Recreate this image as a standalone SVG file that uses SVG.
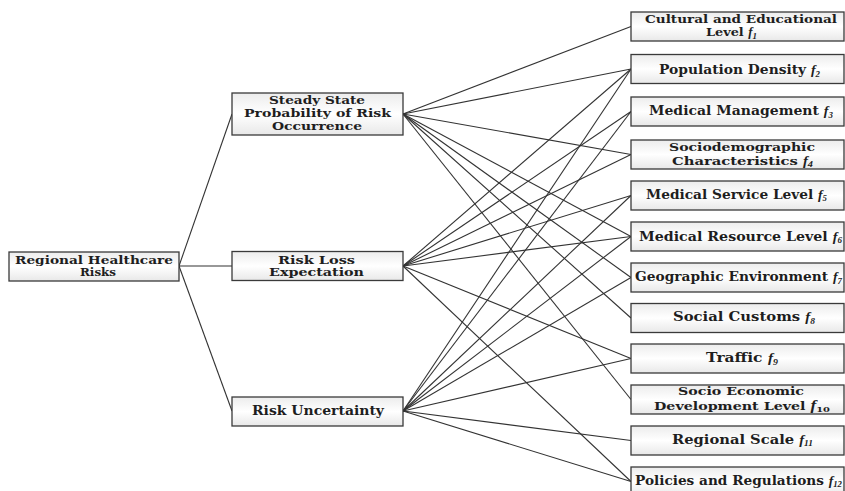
<svg xmlns="http://www.w3.org/2000/svg" width="845" height="491" viewBox="0 0 845 491">
<defs>
<linearGradient id="g" x1="0" y1="0" x2="0" y2="1">
<stop offset="0" stop-color="#ececec"/>
<stop offset="0.5" stop-color="#ffffff"/>
<stop offset="1" stop-color="#e8e8e8"/>
</linearGradient>
<style>
.box{fill:url(#g);stroke:#3a3a3a;stroke-width:1.3}
.t{font-family:"DejaVu Serif","Liberation Serif",serif;font-weight:bold;font-size:12.5px;fill:#1e1e1e}
.m{font-size:11.5px}
.f{font-family:"Liberation Serif",serif;font-style:italic}
.s{font-size:8px}
.conn line{stroke:#333;stroke-width:1.1;fill:none}
</style>
</defs>
<rect width="845" height="491" fill="#ffffff"/>
<g class="conn" id="connectors">
<line x1="179" y1="266" x2="232" y2="114"/>
<line x1="179" y1="266" x2="232" y2="266"/>
<line x1="179" y1="266" x2="232" y2="411"/>
<line x1="403" y1="114" x2="631" y2="26.5"/>
<line x1="403" y1="114" x2="631" y2="69"/>
<line x1="403" y1="114" x2="631" y2="154.5"/>
<line x1="403" y1="114" x2="631" y2="236.5"/>
<line x1="403" y1="114" x2="631" y2="277.5"/>
<line x1="403" y1="114" x2="631" y2="318"/>
<line x1="403" y1="114" x2="631" y2="399.5"/>
<line x1="403" y1="266" x2="631" y2="69"/>
<line x1="403" y1="266" x2="631" y2="111.5"/>
<line x1="403" y1="266" x2="631" y2="154.5"/>
<line x1="403" y1="266" x2="631" y2="195.5"/>
<line x1="403" y1="266" x2="631" y2="236.5"/>
<line x1="403" y1="266" x2="631" y2="358.5"/>
<line x1="403" y1="266" x2="631" y2="481.5"/>
<line x1="403" y1="411" x2="631" y2="69"/>
<line x1="403" y1="411" x2="631" y2="111.5"/>
<line x1="403" y1="411" x2="631" y2="195.5"/>
<line x1="403" y1="411" x2="631" y2="236.5"/>
<line x1="403" y1="411" x2="631" y2="277.5"/>
<line x1="403" y1="411" x2="631" y2="358.5"/>
<line x1="403" y1="411" x2="631" y2="440.5"/>
<line x1="403" y1="411" x2="631" y2="481.5"/>
</g>
<g id="root">
<rect class="box" x="9" y="252" width="170" height="29"/>
<text class="t m" x="15" y="263.5" textLength="158" lengthAdjust="spacingAndGlyphs">Regional Healthcare</text>
<text class="t m" x="80" y="276" textLength="36" lengthAdjust="spacingAndGlyphs">Risks</text>
</g>
<g id="steady">
<rect class="box" x="232" y="93" width="171" height="42"/>
<text class="t m" x="269" y="104" textLength="96" lengthAdjust="spacingAndGlyphs">Steady State</text>
<text class="t m" x="244" y="116.5" textLength="147" lengthAdjust="spacingAndGlyphs">Probability of Risk</text>
<text class="t m" x="272" y="129.5" textLength="90" lengthAdjust="spacingAndGlyphs">Occurrence</text>
</g>
<g id="loss">
<rect class="box" x="232" y="251.5" width="171" height="29"/>
<text class="t m" x="278" y="263.5" textLength="77" lengthAdjust="spacingAndGlyphs">Risk Loss</text>
<text class="t m" x="269" y="276" textLength="95" lengthAdjust="spacingAndGlyphs">Expectation</text>
</g>
<g id="uncertainty">
<rect class="box" x="232" y="397" width="171" height="29"/>
<text class="t" x="252" y="415" textLength="132" lengthAdjust="spacingAndGlyphs">Risk Uncertainty</text>
</g>
<g id="f1">
<rect class="box" x="631" y="12" width="213" height="29"/>
<text class="t m" x="645" y="22.5" textLength="192" lengthAdjust="spacingAndGlyphs">Cultural and Educational</text>
<text class="t m" x="706" y="36" textLength="51" lengthAdjust="spacingAndGlyphs">Level <tspan class="f">f</tspan><tspan class="s f" dy="2.5">1</tspan></text>
</g>
<g id="f2">
<rect class="box" x="631" y="54.5" width="213" height="29"/>
<text class="t" x="659" y="74" textLength="161" lengthAdjust="spacingAndGlyphs">Population Density <tspan class="f">f</tspan><tspan class="s f" dy="2.5">2</tspan></text>
</g>
<g id="f3">
<rect class="box" x="631" y="97" width="213" height="29"/>
<text class="t" x="649" y="115" textLength="184" lengthAdjust="spacingAndGlyphs">Medical Management <tspan class="f">f</tspan><tspan class="s f" dy="2.5">3</tspan></text>
</g>
<g id="f4">
<rect class="box" x="631" y="140" width="213" height="29"/>
<text class="t m" x="669" y="150.5" textLength="146" lengthAdjust="spacingAndGlyphs">Sociodemographic</text>
<text class="t m" x="672" y="164.5" textLength="141" lengthAdjust="spacingAndGlyphs">Characteristics <tspan class="f">f</tspan><tspan class="s f" dy="2.5">4</tspan></text>
</g>
<g id="f5">
<rect class="box" x="631" y="181" width="213" height="29"/>
<text class="t" x="646" y="198.5" textLength="181" lengthAdjust="spacingAndGlyphs">Medical Service Level <tspan class="f">f</tspan><tspan class="s f" dy="2.5">5</tspan></text>
</g>
<g id="f6">
<rect class="box" x="631" y="222" width="213" height="29"/>
<text class="t" x="639" y="240.5" textLength="203" lengthAdjust="spacingAndGlyphs">Medical Resource Level <tspan class="f">f</tspan><tspan class="s f" dy="2.5">6</tspan></text>
</g>
<g id="f7">
<rect class="box" x="631" y="263" width="213" height="29"/>
<text class="t" x="635" y="281" textLength="207" lengthAdjust="spacingAndGlyphs">Geographic Environment <tspan class="f">f</tspan><tspan class="s f" dy="2.5">7</tspan></text>
</g>
<g id="f8">
<rect class="box" x="631" y="303.5" width="213" height="29"/>
<text class="t" x="673" y="321" textLength="142" lengthAdjust="spacingAndGlyphs">Social Customs <tspan class="f">f</tspan><tspan class="s f" dy="2.5">8</tspan></text>
</g>
<g id="f9">
<rect class="box" x="631" y="344" width="213" height="29"/>
<text class="t" x="706" y="362" textLength="72" lengthAdjust="spacingAndGlyphs">Traffic <tspan class="f">f</tspan><tspan class="s f" dy="2.5">9</tspan></text>
</g>
<g id="f10">
<rect class="box" x="631" y="385" width="213" height="29"/>
<text class="t m" x="678" y="395" textLength="126" lengthAdjust="spacingAndGlyphs">Socio Economic</text>
<text class="t m" x="654" y="409.5" textLength="176" lengthAdjust="spacingAndGlyphs">Development Level <tspan class="f" font-size="14px">f</tspan><tspan class="s" dy="2">10</tspan></text>
</g>
<g id="f11">
<rect class="box" x="631" y="426" width="213" height="29"/>
<text class="t" x="672" y="443.5" textLength="141" lengthAdjust="spacingAndGlyphs">Regional Scale <tspan class="f">f</tspan><tspan class="s f" dy="2.5">11</tspan></text>
</g>
<g id="f12">
<rect class="box" x="631" y="467" width="213" height="29"/>
<text class="t" x="635" y="484.5" textLength="207" lengthAdjust="spacingAndGlyphs">Policies and Regulations <tspan class="f">f</tspan><tspan class="s f" dy="2.5">12</tspan></text>
</g>
</svg>
